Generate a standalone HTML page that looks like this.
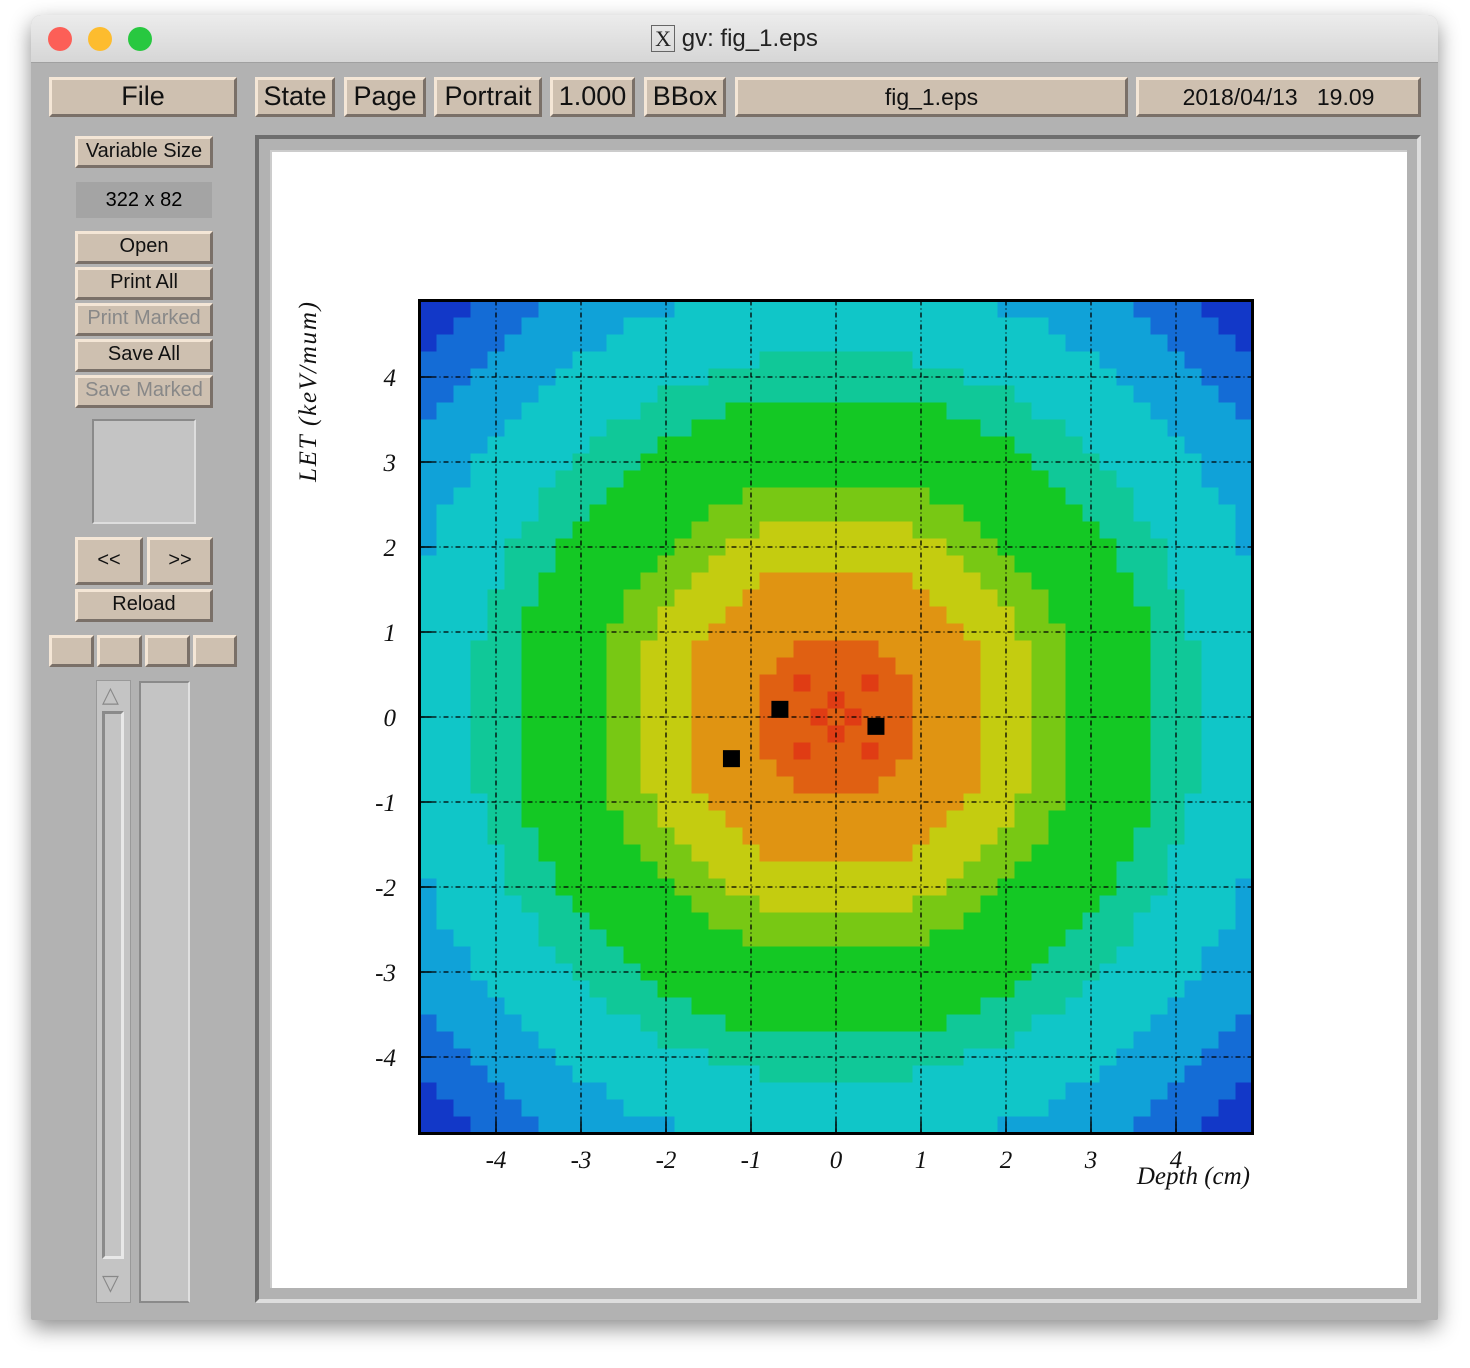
<!DOCTYPE html>
<html><head><meta charset="utf-8">
<style>
html,body{margin:0;padding:0;background:#fff;width:1470px;height:1368px;overflow:hidden;font-family:"Liberation Sans","DejaVu Sans",sans-serif}
.win{position:absolute;left:31px;top:15px;width:1407px;height:1305px;background:#b2b2b2;border-radius:10px 10px 2px 2px;box-shadow:0 8px 22px rgba(0,0,0,.45);overflow:hidden}
.title{position:absolute;left:0;top:0;width:100%;height:47px;background:linear-gradient(#ececec,#d6d6d6);border-bottom:1px solid #a0a0a0;text-align:center;font-size:24px;line-height:48px;color:#222}
.dot{position:absolute;top:12px;width:24px;height:24px;border-radius:50%}
.b{position:absolute;background:#cec0b0;border-top:3px solid #f4e6d6;border-left:3px solid #f4e6d6;border-right:3px solid #7a7068;border-bottom:3px solid #7a7068;box-sizing:border-box;text-align:center;color:#111;white-space:nowrap;overflow:hidden}
.big{font-size:27px;line-height:32px}
.sm{font-size:20px;line-height:24px}
.dim{color:#888}
.abs{position:absolute;box-sizing:border-box}
</style></head><body>
<div class="win">
  <div class="title">
    <div class="dot" style="left:17px;background:#fc5f57"></div>
    <div class="dot" style="left:57px;background:#fdbc2e"></div>
    <div class="dot" style="left:97px;background:#28c840"></div>
    <span><span style="font-family:'Liberation Serif',serif;border:1px solid #666;padding:0 3px;font-size:22px">X</span> gv: fig_1.eps</span>
  </div>
</div>
<div class="b big" style="left:49px;top:77px;width:188px;height:40px">File</div>
<div class="b big" style="left:255px;top:77px;width:80px;height:40px">State</div>
<div class="b big" style="left:344px;top:77px;width:82px;height:40px">Page</div>
<div class="b big" style="left:434px;top:77px;width:108px;height:40px">Portrait</div>
<div class="b big" style="left:550px;top:77px;width:85px;height:40px">1.000</div>
<div class="b big" style="left:644px;top:77px;width:82px;height:40px">BBox</div>
<div class="b" style="left:735px;top:77px;width:393px;height:40px;font-size:23px;line-height:34px">fig_1.eps</div>
<div class="b" style="left:1136px;top:77px;width:285px;height:40px;font-size:23px;line-height:34px">2018/04/13 &nbsp;&nbsp;19.09</div>

<div class="b sm" style="left:75px;top:136px;width:138px;height:32px">Variable Size</div>
<div class="abs sm" style="left:76px;top:182px;width:136px;height:36px;background:#a4a4a4;text-align:center;line-height:36px">322 x 82</div>
<div class="b sm" style="left:75px;top:231px;width:138px;height:33px">Open</div>
<div class="b sm" style="left:75px;top:267px;width:138px;height:33px">Print All</div>
<div class="b sm dim" style="left:75px;top:303px;width:138px;height:33px">Print Marked</div>
<div class="b sm" style="left:75px;top:339px;width:138px;height:33px">Save All</div>
<div class="b sm dim" style="left:75px;top:375px;width:138px;height:33px">Save Marked</div>
<div class="abs" style="left:92px;top:419px;width:104px;height:105px;background:#c4c4c4;border:2px solid #8a8a8a;border-right-color:#ddd;border-bottom-color:#ddd"></div>
<div class="b sm" style="left:75px;top:537px;width:68px;height:48px;line-height:40px">&lt;&lt;</div>
<div class="b sm" style="left:147px;top:537px;width:66px;height:48px;line-height:40px">&gt;&gt;</div>
<div class="b sm" style="left:75px;top:589px;width:138px;height:33px">Reload</div>
<div class="b" style="left:49px;top:635px;width:45px;height:32px"></div>
<div class="b" style="left:97px;top:635px;width:45px;height:32px"></div>
<div class="b" style="left:145px;top:635px;width:45px;height:32px"></div>
<div class="b" style="left:193px;top:635px;width:44px;height:32px"></div>
<div class="abs" style="left:96px;top:680px;width:35px;height:623px;background:#c4c4c4;border:1px solid #999">
  <div class="abs" style="left:5px;top:30px;width:22px;height:548px;border:3px solid #8a8a8a;border-right-color:#e8e8e8;border-bottom-color:#e8e8e8"></div>
  <div class="abs" style="left:5px;top:2px;font-size:22px;color:#888;line-height:24px">△</div>
  <div class="abs" style="left:5px;top:590px;font-size:22px;color:#888;line-height:24px">▽</div>
</div>
<div class="abs" style="left:139px;top:681px;width:51px;height:622px;background:#c4c4c4;border:2px solid #8a8a8a;border-right-color:#e0e0e0"></div>

<div class="abs" style="left:255px;top:135px;width:1166px;height:1168px;border:4px solid #6e6e6e;border-right-color:#ddd;border-bottom-color:#ddd;background:#b2b2b2"></div>
<div class="abs" style="left:270px;top:150px;width:1137px;height:1138px;background:#fff;border-top:2px solid #ccc;border-left:2px solid #ccc"></div>

<svg id="chart" width="1470" height="1368" style="position:absolute;left:0;top:0"></svg>
<script>
// Half-row colour levels (dx = 0..24 from centre column), rows d = |row-24| from centre
var halfRows = [
"9a99988887776655555444333",
"a999988887776655555444333",
"99a9988887776655555444333",
"9999888887776655555444333",
"9998888887776655555444333",
"8888888877766655555443333",
"8888888777766555555443333",
"8888887777666555554443333",
"8888877776665555554433333",
"7777777766655555544433333",
"7777777666555555544433332",
"7777766665555555444333332",
"6666666655555554443333332",
"6666665555555544443333322",
"5555555555555444433333222",
"5555555555554444333333222",
"5555555555544443333332222",
"5555555554444433333322222",
"5555555444443333333222221",
"4444444444433333332222211",
"4444444433333333322222111",
"4444433333333333222221111",
"3333333333333322222211110",
"3333333333333222222111100",
"3333333333222222221111000"
];
var hotX = [-0.76, 0.37, -1.33];
var hotY = [0.19, -0.01, -0.39];
var xTicks = [-4,-3,-2,-1,0,1,2,3,4];
var yTicks = [4,3,2,1,0,-1,-2,-3,-4];
var xTickLabels = ["-4","-3","-2","-1","0","1","2","3","4"];
var yTickLabels = ["4","3","2","1","0","-1","-2","-3","-4"];
var palette = {"0":"#1238c8","1":"#146cd6","2":"#10a2d8","3":"#10c6c8","4":"#10c898","5":"#14c824","6":"#78c814","7":"#c4cc10","8":"#e09412","9":"#e06012","a":"#e03c14","b":"#000000"};
var NS="http://www.w3.org/2000/svg", svg=document.getElementById('chart');
var X0=836, Y0=717, U=85, BIN=0.2, LO=-4.9, HI=4.9;
function sx(v){return X0+U*v;}
function sy(v){return Y0-U*v;}
function mk(t,a){var e=document.createElementNS(NS,t);for(var k in a)e.setAttribute(k,a[k]);svg.appendChild(e);return e;}
var n=halfRows.length*2-1, mid=halfRows.length-1;
for(var r=0;r<n;r++){
  var hr=halfRows[Math.abs(r-mid)];
  for(var c=0;c<n;c++){
    var lev=hr[Math.abs(c-mid)];
    var x0=LO+c*BIN, y1=HI-r*BIN;
    var rc=mk('rect',{x:sx(x0),y:sy(y1),width:U*BIN+0.6,height:U*BIN+0.6,fill:palette[lev]});
    
    
  }
}
for(var i=0;i<hotX.length;i++){
  var h=mk('rect',{x:sx(hotX[i]),y:sy(hotY[i]),width:U*BIN,height:U*BIN,fill:palette.b});
  
  
}
for(var i=0;i<xTicks.length;i++){
  var g=mk('line',{x1:sx(xTicks[i]),x2:sx(xTicks[i]),y1:sy(HI),y2:sy(LO),stroke:'#000','stroke-width':1.3,'stroke-dasharray':'5,3,1,3'});
  
  
  mk('line',{x1:sx(xTicks[i]),x2:sx(xTicks[i]),y1:sy(LO),y2:sy(LO)-12,stroke:'#000','stroke-width':1.5});
  var t=mk('text',{x:sx(xTicks[i]),y:1168,'font-family':'Liberation Serif, serif','font-style':'italic','font-size':25,'text-anchor':'middle',fill:'#111'});
  t.textContent=xTickLabels[i];
  
  
}
for(var i=0;i<yTicks.length;i++){
  var g=mk('line',{x1:sx(LO),x2:sx(HI),y1:sy(yTicks[i]),y2:sy(yTicks[i]),stroke:'#000','stroke-width':1.3,'stroke-dasharray':'5,3,1,3'});
  
  
  mk('line',{x1:sx(LO),x2:sx(LO)+12,y1:sy(yTicks[i]),y2:sy(yTicks[i]),stroke:'#000','stroke-width':1.5});
  var t=mk('text',{x:396,y:sy(yTicks[i])+9,'font-family':'Liberation Serif, serif','font-style':'italic','font-size':25,'text-anchor':'end',fill:'#111'});
  t.textContent=yTickLabels[i];
  
  
}
var fr=mk('rect',{x:sx(LO),y:sy(HI),width:U*(HI-LO),height:U*(HI-LO),fill:'none',stroke:'#000','stroke-width':3});


var xt=mk('text',{x:1250,y:1184,'font-family':'Liberation Serif, serif','font-style':'italic','font-size':25,'text-anchor':'end',fill:'#111'});
xt.textContent='Depth (cm)';


var yt=mk('text',{x:0,y:0,transform:'translate(316,302) rotate(-90)','font-family':'Liberation Serif, serif','font-style':'italic','font-size':25,'text-anchor':'end',fill:'#111',textLength:180});
yt.textContent='LET (keV/mum)';


</script>
</body></html>
